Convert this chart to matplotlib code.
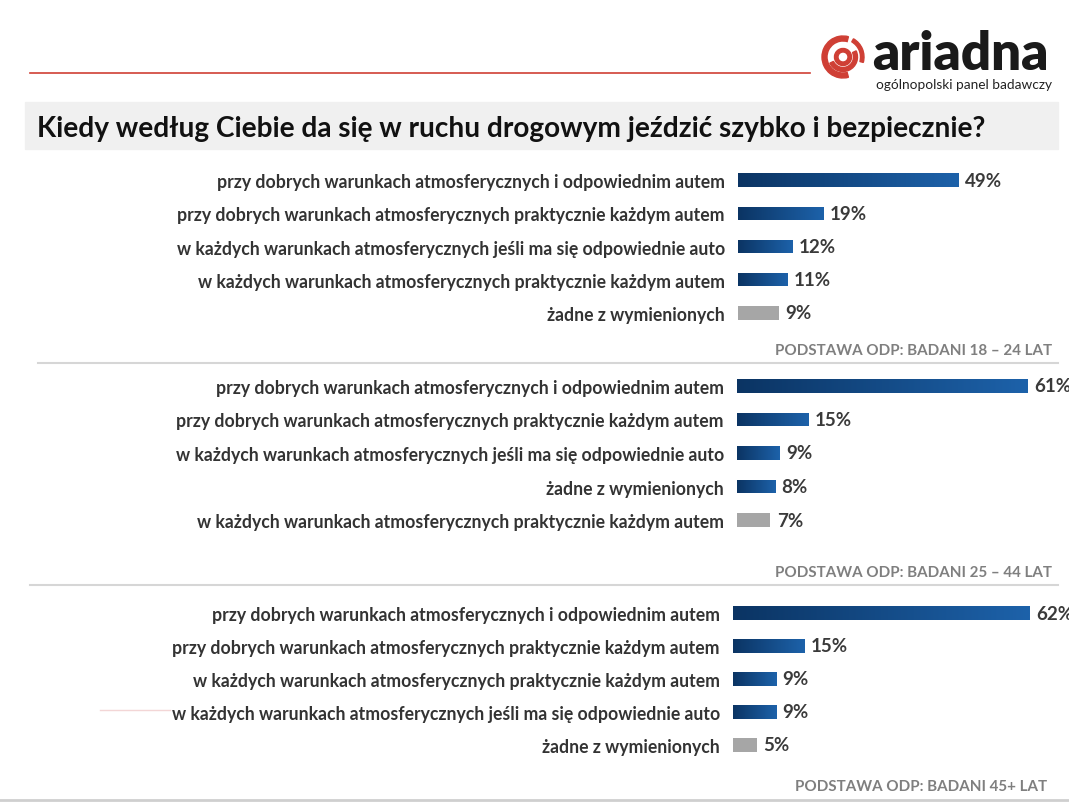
import numpy as np
import matplotlib
matplotlib.use("Agg")
import matplotlib.pyplot as plt
from matplotlib.colors import LinearSegmentedColormap
from matplotlib.patches import Rectangle, Wedge

plt.rcParams["font.family"] = ["Lato", "DejaVu Sans"]

TITLE = "Kiedy według Ciebie da się w ruchu drogowym jeździć szybko i bezpiecznie?"

A = "przy dobrych warunkach atmosferycznych i odpowiednim autem"
B = "przy dobrych warunkach atmosferycznych praktycznie każdym autem"
C = "w każdych warunkach atmosferycznych jeśli ma się odpowiednie auto"
D = "w każdych warunkach atmosferycznych praktycznie każdym autem"
E = "żadne z wymienionych"

labels_18_24 = [A, B, C, D, E]
values_18_24 = [49, 19, 12, 11, 9]
labels_25_44 = [A, B, C, E, D]
values_25_44 = [61, 15, 9, 8, 7]
labels_45 = [A, B, D, C, E]
values_45 = [62, 15, 9, 9, 5]

footers = ["PODSTAWA ODP: BADANI 18 – 24 LAT",
           "PODSTAWA ODP: BADANI 25 – 44 LAT",
           "PODSTAWA ODP: BADANI 45+ LAT"]

W, H = 1069, 803
fig = plt.figure(figsize=(W / 100, H / 100), dpi=100)
fig.patch.set_facecolor("white")

# overlay axes in pixel coordinates for decoration
deco = fig.add_axes([0, 0, 1, 1])
deco.set_xlim(0, W)
deco.set_ylim(H, 0)
deco.axis("off")

red = "#cf3f35"
deco.plot([30, 810], [74, 74], color=red, lw=1.2)
deco.plot([100, 170], [711, 711], color="#f3d6d6", lw=1)
deco.add_patch(Rectangle((25, 103), 1033, 47, color="#f0f0f0", zorder=0))
deco.text(37, 129, TITLE, fontsize=20.2, fontweight="bold", color="#111111",
          va="center", ha="left")

# logo icon
cx, cy = 843, 58
deco.add_patch(Wedge((cx, cy), 21, 75, 285, width=5, color=red))
deco.add_patch(Wedge((cx, cy), 21, 300, 15, width=3.5, color=red))
deco.add_patch(Wedge((cx, cy), 14.5, -25, 155, width=4, color=red))
deco.add_patch(Wedge((cx, cy), 8.5, 0, 360, width=3.5, color=red))
deco.text(872, 55, "ariadna", fontsize=38, fontweight="heavy", color="#1a1a1a",
          va="center", ha="left")
deco.text(1052, 85, "ogólnopolski panel badawczy", fontsize=9.8, color="#222222",
          va="center", ha="right")

# separators
deco.plot([38, 1058], [364, 364], color="#d6d6d6", lw=1.5)
deco.plot([30, 1058], [586, 586], color="#d6d6d6", lw=1.5)
deco.plot([0, W], [801, 801], color="#cfcfcf", lw=2)

grad = np.linspace(0, 1, 256).reshape(1, -1)
blue_cmap = LinearSegmentedColormap.from_list("bar", ["#0b3463", "#1d62aa"])


def panel(left, right, top, bottom, px_per_pct, labels, values, footer, fy, fx):
    ax = fig.add_axes([left / W, 1 - bottom / H, (right - left) / W, (bottom - top) / H])
    ax.patch.set_alpha(0)
    y = np.arange(len(values))
    bars = ax.barh(y, values, height=0.4, color="none", edgecolor="none")
    last = len(values) - 1
    for i, (bar, v) in enumerate(zip(bars, values)):
        if i == last:
            bar.set_facecolor("#a6a6a6")
        else:
            x0, y0 = bar.get_x(), bar.get_y()
            im = ax.imshow(grad, extent=[x0, x0 + bar.get_width(), y0 + bar.get_height(), y0],
                           cmap=blue_cmap, aspect="auto", zorder=2)
            im.set_clip_path(bar)
        ax.annotate(f"{v}%", (v, i), xytext=(4.5, 0), textcoords="offset points",
                    va="center", ha="left", fontsize=13.5, fontweight="bold",
                    color="#3a3a3a", annotation_clip=False)
    ax.set_xlim(0, (right - left) / px_per_pct)
    ax.set_ylim(len(values) - 0.5, -0.5)
    ax.set_yticks(y)
    ax.set_yticklabels(labels, fontsize=12.7, fontweight="bold", color="#333333")
    ax.tick_params(axis="y", length=0, pad=9.5)
    ax.set_xticks([])
    for s in ax.spines.values():
        s.set_visible(False)
    deco.text(fx, fy, footer, fontsize=10.9, fontweight="bold", color="#7f7f7f",
              ha="right", va="center")


panel(738, 1058, 164.4, 330.6, 4.51, labels_18_24, values_18_24, footers[0], 351, 1052)
panel(737, 1058, 370.2, 537.8, 4.77, labels_25_44, values_25_44, footers[1], 573, 1052)
panel(733, 1058, 597.5, 762.5, 4.79, labels_45, values_45, footers[2], 787, 1047)

fig.savefig("out.png", dpi=100)
